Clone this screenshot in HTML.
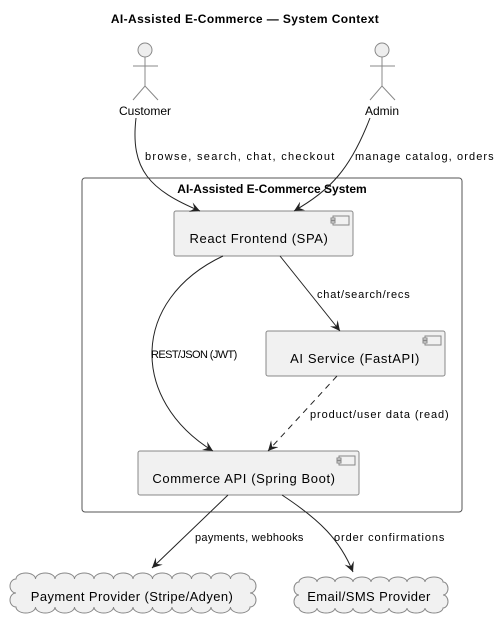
<!DOCTYPE html>
<html><head><meta charset="utf-8"><style>
html,body{margin:0;padding:0;background:#fff;}
svg{display:block;}
text{font-family:"Liberation Sans",sans-serif;fill:#000;}
</style></head><body>
<svg width="504" height="634" viewBox="0 0 504 634" xmlns="http://www.w3.org/2000/svg">
<defs>
<marker id="a" markerWidth="12" markerHeight="10" refX="10" refY="5" orient="auto" markerUnits="userSpaceOnUse">
<path d="M0,0 L10,5 L0,10 L4,5 Z" fill="#222"/>
</marker>
</defs>
<text x="245" y="23" text-anchor="middle" font-size="12" font-weight="bold" letter-spacing="0.4">AI-Assisted E-Commerce — System Context</text>

<g stroke="#888" fill="none" stroke-width="1">
<circle cx="145" cy="50" r="7" fill="#eee"/>
<line x1="145" y1="57" x2="145" y2="86"/><line x1="133" y1="66" x2="158" y2="66"/>
<path d="M133,100 L145,86 L158,100"/>
<circle cx="382" cy="50" r="7" fill="#eee"/>
<line x1="382" y1="57" x2="382" y2="86"/><line x1="370" y1="66" x2="395" y2="66"/>
<path d="M370,100 L382,86 L395,100"/>
</g>
<text x="145" y="115" text-anchor="middle" font-size="12">Customer</text>
<text x="382" y="115" text-anchor="middle" font-size="12">Admin</text>

<rect x="82" y="178" width="380" height="334" rx="3" fill="none" stroke="#555" stroke-width="1"/>
<text x="272" y="193" text-anchor="middle" font-size="12" font-weight="bold">AI-Assisted E-Commerce System</text>

<g fill="#f1f1f1" stroke="#888" stroke-width="1">
<rect x="174" y="211" width="179" height="45" rx="2"/>
<rect x="266" y="331" width="179" height="45" rx="2"/>
<rect x="138" y="451" width="221" height="44" rx="2"/>
</g>
<g fill="#f1f1f1" stroke="#888" stroke-width="1">
<rect x="333" y="216" width="16" height="9"/><rect x="331" y="218" width="4" height="2"/><rect x="331" y="221" width="4" height="2"/>
<rect x="425" y="336" width="16" height="9"/><rect x="423" y="338" width="4" height="2"/><rect x="423" y="341" width="4" height="2"/>
<rect x="339" y="456" width="16" height="9"/><rect x="337" y="458" width="4" height="2"/><rect x="337" y="461" width="4" height="2"/>
</g>
<g font-size="13" letter-spacing="0.6">
<text x="259" y="243" text-anchor="middle">React Frontend (SPA)</text>
<text x="355" y="363" text-anchor="middle">AI Service (FastAPI)</text>
<text x="244" y="483" text-anchor="middle">Commerce API (Spring Boot)</text>
</g>

<g fill="none" stroke="#222" stroke-width="1">
<path d="M136,118 C130,170 150,190 200,211" marker-end="url(#a)"/>
<path d="M370,118 C350,170 330,190 294,211" marker-end="url(#a)"/>
<path d="M280,256 L340,331" marker-end="url(#a)"/>
<path d="M223,256 C130,300 130,400 213,451" marker-end="url(#a)"/>
<path d="M337,376 L268,451" stroke-dasharray="6,5" marker-end="url(#a)"/>
<path d="M228,495 L152,568" marker-end="url(#a)"/>
<path d="M282,495 C320,520 340,540 353,572" marker-end="url(#a)"/>
</g>
<g font-size="11">
<text x="145" y="160" letter-spacing="1.3">browse, search, chat, checkout</text>
<text x="355" y="160" letter-spacing="1.1">manage catalog, orders</text>
<text x="317" y="298" letter-spacing="0.8">chat/search/recs</text>
<text x="151" y="358" letter-spacing="-0.6">REST/JSON (JWT)</text>
<text x="310" y="418" letter-spacing="0.9">product/user data (read)</text>
<text x="195" y="541" letter-spacing="0.3">payments, webhooks</text>
<text x="334" y="541" letter-spacing="0.9">order confirmations</text>
</g>

<path fill="#f1f1f1" stroke="#888" stroke-width="1" d="M16,579
a9.75,6 0 0 1 19.5,0 a9.75,6 0 0 1 19.5,0 a9.75,6 0 0 1 19.5,0 a9.75,6 0 0 1 19.5,0 a9.75,6 0 0 1 19.5,0 a9.75,6 0 0 1 19.5,0 a9.75,6 0 0 1 19.5,0 a9.75,6 0 0 1 19.5,0 a9.75,6 0 0 1 19.5,0 a9.75,6 0 0 1 19.5,0 a9.75,6 0 0 1 19.5,0 a9.75,6 0 0 1 19.5,0
a6,7 0 0 1 0,14 a6,7 0 0 1 0,14
a9.75,6 0 0 1 -19.5,0 a9.75,6 0 0 1 -19.5,0 a9.75,6 0 0 1 -19.5,0 a9.75,6 0 0 1 -19.5,0 a9.75,6 0 0 1 -19.5,0 a9.75,6 0 0 1 -19.5,0 a9.75,6 0 0 1 -19.5,0 a9.75,6 0 0 1 -19.5,0 a9.75,6 0 0 1 -19.5,0 a9.75,6 0 0 1 -19.5,0 a9.75,6 0 0 1 -19.5,0 a9.75,6 0 0 1 -19.5,0
a6,7 0 0 1 0,-14 a6,7 0 0 1 0,-14 Z"/>
<path fill="#f1f1f1" stroke="#888" stroke-width="1" d="M299,582
a9,5 0 0 1 18,0 a9,5 0 0 1 18,0 a9,5 0 0 1 18,0 a9,5 0 0 1 18,0 a9,5 0 0 1 18,0 a9,5 0 0 1 18,0 a9,5 0 0 1 18,0 a9,5 0 0 1 18,0
a5,6.5 0 0 1 0,13 a5,6.5 0 0 1 0,13
a9,5 0 0 1 -18,0 a9,5 0 0 1 -18,0 a9,5 0 0 1 -18,0 a9,5 0 0 1 -18,0 a9,5 0 0 1 -18,0 a9,5 0 0 1 -18,0 a9,5 0 0 1 -18,0 a9,5 0 0 1 -18,0
a5,6.5 0 0 1 0,-13 a5,6.5 0 0 1 0,-13 Z"/>
<g font-size="13" letter-spacing="0.4">
<text x="132" y="601" text-anchor="middle">Payment Provider (Stripe/Adyen)</text>
<text x="369" y="601" text-anchor="middle">Email/SMS Provider</text>
</g>
</svg>
</body></html>
